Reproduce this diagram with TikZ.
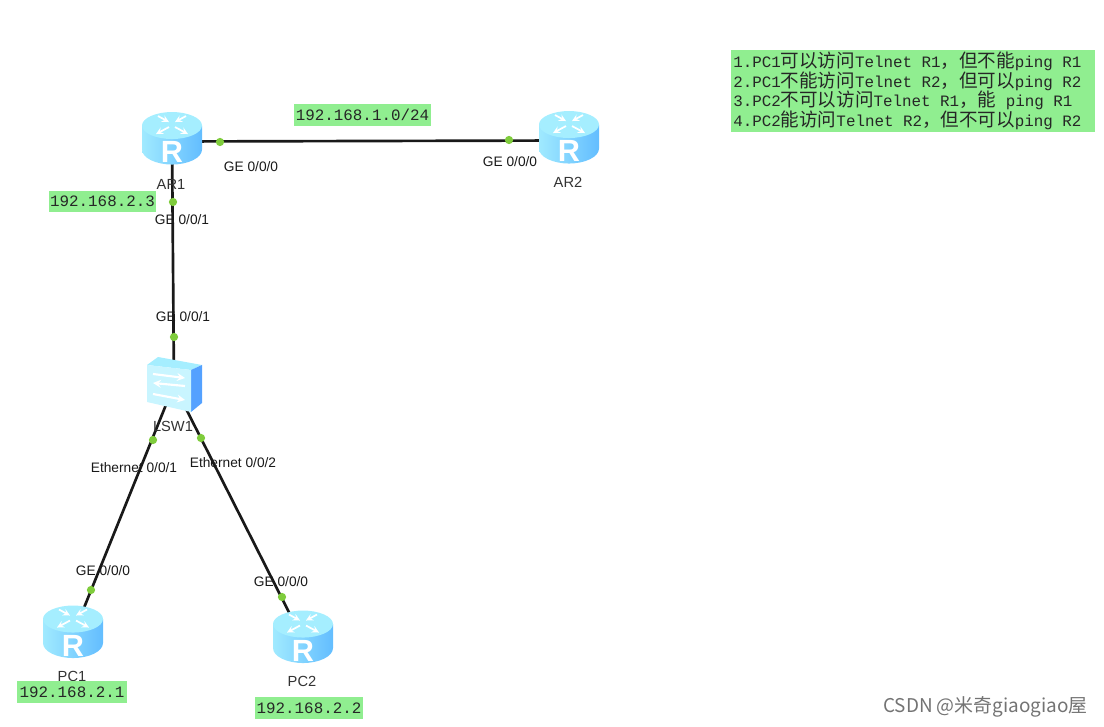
\documentclass[tikz,border=0pt]{standalone}
\usepackage{xcolor}
\usepackage{fontspec}
\setmainfont{Liberation Sans}
\newfontfamily\monof{Liberation Mono}
\newfontfamily\cjkf{Noto Sans CJK SC}
\newcommand{\zh}[1]{{\cjkf\fontsize{13.9}{14.6}\selectfont #1}}
\newcommand{\gap}{\hspace*{.6em}}
\definecolor{ipgreen}{HTML}{90EE90}
\definecolor{portgreen}{HTML}{7FCC3C}
\definecolor{cyltop}{HTML}{A5EEFF}
\definecolor{cylleft}{HTML}{A0EAFF}
\definecolor{cylright}{HTML}{63BDFF}
\usetikzlibrary{calc}

\begin{document}
\begin{tikzpicture}[x=0.75pt,y=-0.75pt,
dev/.style={inner sep=0,minimum width=45pt,minimum height=37pt},
link/.style={draw=black!90,line width=2pt},
port/.style={circle,fill=portgreen,inner sep=0,minimum size=6.2pt},
lab/.style={font=\fontsize{10.3}{12}\selectfont,text=black!90,inner sep=0},
devname/.style={font=\fontsize{11}{13}\selectfont,text=black!80,inner sep=0},
ip/.style={fill=ipgreen,inner sep=0,font=\monof\fontsize{11.9}{14}\selectfont,text=black!85},
arrowmark/.style={draw=white,line width=1.3pt,-stealth},
router/.pic={
	\path[left color=cylleft,right color=cylright] (-30,-12.5) -- (-30,11.5) .. controls (-30,20) and (-16,26.5) .. (0,26.5) .. controls (16,26.5) and (30,20) .. (30,11.5) -- (30,-12.5) -- cycle;
	\path[fill=cyltop] (-30,-12.5) .. controls (-30,-20) and (-16,-26) .. (0,-26) .. controls (16,-26) and (30,-20) .. (30,-12.5) .. controls (30,-5) and (16,1) .. (0,1) .. controls (-16,1) and (-30,-5) .. (-30,-12.5) -- cycle;
	\draw[arrowmark] (-14,-22) -- (-3,-16);
	\draw[arrowmark] (14,-22) -- (3,-16);
	\draw[arrowmark] (-3,-11) -- (-16,-4);
	\draw[arrowmark] (3,-11) -- (16,-4);
	\node[text=white,inner sep=0,font=\bfseries\fontsize{23}{23}\selectfont] (-letter) at (0,14) {R};
},
switchbox/.pic={
	\path[fill=cyltop] (-27,-20) -- (-16,-28) -- (28,-20) -- (17,-15) -- cycle;
	\path[fill=cylright!85!blue] (17,-15) -- (28,-20) -- (28,18) -- (17,27) -- cycle;
	\path[fill=cyltop!60!white] (-27,-20) -- (17,-15) -- (17,27) -- (-27,17) -- cycle;
	\draw[arrowmark,line width=1.6pt] (-21,-11) -- (11,-7);
	\draw[arrowmark,line width=1.6pt] (11,1) -- (-21,-2);
	\draw[arrowmark,line width=1.6pt] (-21,9) -- (11,15);
}]
\useasboundingbox (0,0) rectangle (1104,727);

\node[dev] at (172,141.5) (ar1) {};
\node[dev] at (569,140.5) (ar2) {};
\node[dev] at (174,385) (lsw1) {};
\node[dev] at (73,635) (pc1) {};
\node[dev] at (303,640) (pc2) {};

\draw[link] (ar1.center) -- (ar2.center);
\draw[link] (ar1.center) -- (lsw1.center);
\draw[link] (lsw1.center) -- (pc1.center);
\draw[link] (lsw1.center) -- (pc2.center);

\pic (ar1icon) at ([yshift=2.6pt]ar1.center) {router};
\pic (ar2icon) at ([yshift=2.6pt]ar2.center) {router};
\pic (pc1icon) at ([yshift=2.6pt]pc1.center) {router};
\pic (pc2icon) at ([yshift=2.6pt]pc2.center) {router};
\pic (lsw1icon) at (lsw1.center) {switchbox};

\node[port] at (220,142) (p1) {};
\node[port] at (509,140) (p2) {};
\node[port] at (173,202) (p3) {};
\node[port] at (174,337) (p4) {};
\node[port] at (153,440) (p5) {};
\node[port] at (201,438) (p6) {};
\node[port] at (91,590) (p7) {};
\node[port] at (282,597) (p8) {};

\node[devname] at (171,184) (n1) {AR1};
\node[devname] at (568,182) (n2) {AR2};
\node[devname] at (173,426) (n3) {LSW1};
\node[devname] at (72,676) (n4) {PC1};
\node[devname] at (302,681) (n5) {PC2};

\node[lab] at (251,167) (l1) {GE 0/0/0};
\node[lab] at (510,162) (l2) {GE 0/0/0};
\node[lab] at (182,220) (l3) {GE 0/0/1};
\node[lab] at (183,317) (l4) {GE 0/0/1};
\node[lab] at (134,468) (l5) {Ethernet 0/0/1};
\node[lab] at (233,463) (l6) {Ethernet 0/0/2};
\node[lab] at (103,571) (l7) {GE 0/0/0};
\node[lab] at (281,582) (l8) {GE 0/0/0};

\node[ip,minimum width=102.75pt,minimum height=16.5pt] at (362.5,115) (net1) {192.168.1.0/24};
\node[ip,minimum width=80.25pt,minimum height=15.75pt] at (102.5,201.5) (ip3) {192.168.2.3};
\node[ip,minimum width=82.5pt,minimum height=16.5pt] at (72,692) (ip1) {192.168.2.1};
\node[ip,minimum width=81pt,minimum height=16.5pt] at (309,708) (ip2) {192.168.2.2};

\node[ip,anchor=north west,minimum width=273pt,minimum height=61.5pt,align=left,text width=270pt,font=\monof\fontsize{11.9}{14.6}\selectfont] at (731,49.5) (rules) {%
1.PC1\zh{可以访问}Telnet\gap R1\zh{，但不能}ping\gap R1\\
2.PC1\zh{不能访问}Telnet\gap R2\zh{，但可以}ping\gap R2\\
3.PC2\zh{不可以访问}Telnet\gap R1\zh{，能}\gap ping\gap R1\\
4.PC2\zh{能访问}Telnet\gap R2\zh{，但不可以}ping\gap R2};

\node[inner sep=0,text=black!55,anchor=east,font=\cjkf\fontsize{14.2}{16}\selectfont] at (1088,707) (mark1) {CSDN @米奇giaogiao屋};
\end{tikzpicture}
\end{document}
